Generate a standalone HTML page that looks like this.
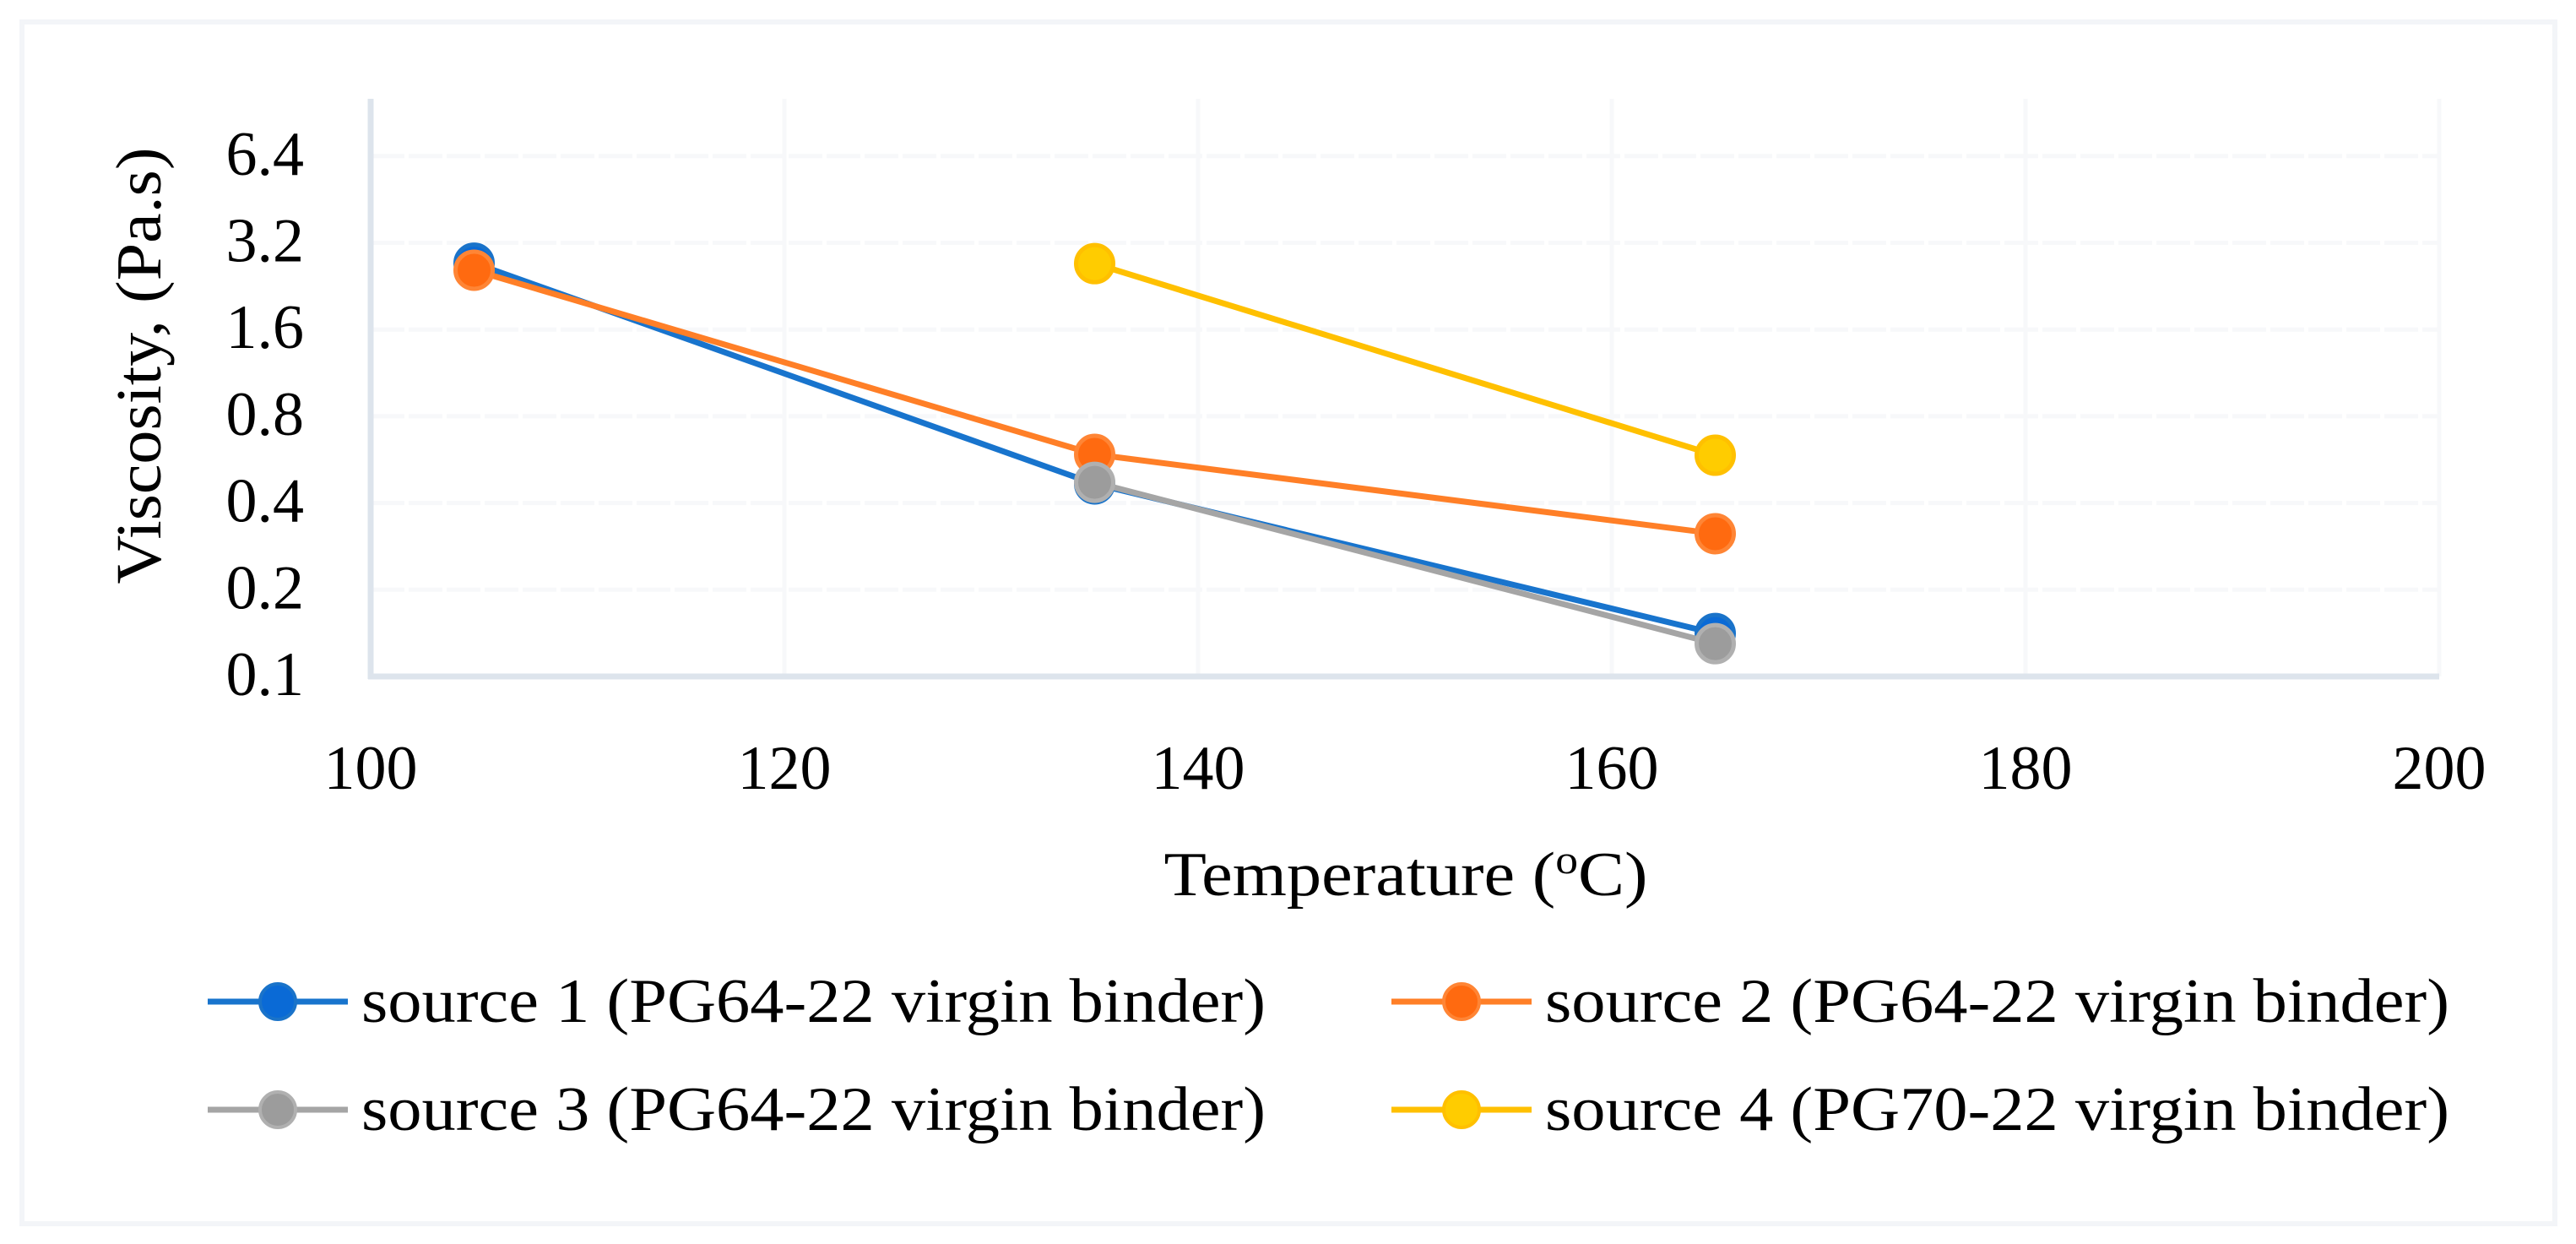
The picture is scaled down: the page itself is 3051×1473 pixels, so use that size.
<!DOCTYPE html>
<html><head><meta charset="utf-8"><style>
html,body{margin:0;padding:0;background:#fff;}
svg{display:block;font-family:"Liberation Serif",serif;}
</style></head><body>
<svg id="chart" width="3051" height="1473" viewBox="0 0 3051 1473" xmlns="http://www.w3.org/2000/svg">
<rect x="26" y="26" width="3000" height="1423" fill="#fff" stroke="#f3f5f8" stroke-width="6"/>
<g id="grid"></g>
<g id="axes"></g>
<g id="series"></g>
<g id="legend"></g>
<text x="0" y="0" transform="translate(190,433) rotate(-90)" text-anchor="middle" font-size="76" textLength="517" lengthAdjust="spacingAndGlyphs">Viscosity, (Pa.s)</text>
<text x="1665" y="1060" text-anchor="middle" font-size="74" textLength="573" lengthAdjust="spacingAndGlyphs">Temperature (<tspan font-size="48" dy="-26">o</tspan><tspan dy="26">C)</tspan></text>
</svg>
<script>
const temps = [105, 135, 165];
const src1 = [2.72, 0.466, 0.141];
const src2 = [2.57, 0.59, 0.313];
const src3 = [null, 0.472, 0.130];
const src4 = [null, 2.71, 0.586];
const xTicks = [100, 120, 140, 160, 180, 200];
const yTicks = [0.1, 0.2, 0.4, 0.8, 1.6, 3.2, 6.4];
const yTickLabels = ["0.1", "0.2", "0.4", "0.8", "1.6", "3.2", "6.4"];
const seriesNames = ["source 1 (PG64-22 virgin binder)", "source 2 (PG64-22 virgin binder)", "source 3 (PG64-22 virgin binder)", "source 4 (PG70-22 virgin binder)"];

const NS = "http://www.w3.org/2000/svg";
const X0 = 439, X1 = 2889, Y0 = 801, STEP = 102.7;
const xs = v => X0 + (v - 100) / 100 * (X1 - X0);
const ys = v => Y0 - STEP * Math.log2(v / 0.1);
function mk(tag, attrs, parent) {
  const e = document.createElementNS(NS, tag);
  for (const k in attrs) e.setAttribute(k, attrs[k]);
  parent.appendChild(e);
  return e;
}
const grid = document.getElementById('grid');
const axes = document.getElementById('axes');
const ser = document.getElementById('series');
const leg = document.getElementById('legend');

yTicks.forEach((t, i) => {
  if (i > 0) {
    const g = mk('line', {x1: X0, x2: X1, y1: ys(t), y2: ys(t), stroke: '#f7f8fa', 'stroke-width': 5, 'stroke-dasharray': '40 5'}, grid);
    
    
  }
  const tx = mk('text', {x: 360, y: ys(t) + 22, 'text-anchor': 'end', 'font-size': 74}, axes);
  tx.textContent = yTickLabels[i];
  
  
});
xTicks.forEach(t => {
  if (t > 100) {
    const g = mk('line', {x1: xs(t), x2: xs(t), y1: 117, y2: Y0, stroke: '#f7f8fa', 'stroke-width': 5}, grid);
    
    
  }
  const tx = mk('text', {x: xs(t), y: 934, 'text-anchor': 'middle', 'font-size': 74}, axes);
  tx.textContent = String(t);
  
  
});
const ya = mk('line', {x1: X0, x2: X0, y1: 117, y2: Y0 + 3, stroke: '#dde4ec', 'stroke-width': 7}, axes);


const xa = mk('line', {x1: X0 - 3, x2: X1, y1: Y0, y2: Y0, stroke: '#dde4ec', 'stroke-width': 7}, axes);



const allSeries = [src1, src2, src3, src4];
const lineCol = ['#1874cd', '#ff7f27', '#a5a5a5', '#ffc000'];
const fillCol = ['#0a6ad6', '#ff6a10', '#9c9c9c', '#ffcc00'];
const strokeCol = ['#1a73c9', '#ff8535', '#b0b0b0', '#ffc000'];

allSeries.forEach((vals, si) => {
  const pts = [];
  vals.forEach((v, i) => { if (v != null) pts.push([xs(temps[i]), ys(v)]); });
  const pl = mk('polyline', {points: pts.map(p => p.join(',')).join(' '), fill: 'none', stroke: lineCol[si], 'stroke-width': 7}, ser);
  
  
  pts.forEach(p => {
    const c = mk('circle', {cx: p[0], cy: p[1], r: 22, fill: fillCol[si], stroke: strokeCol[si], 'stroke-width': 5}, ser);
    
    
  });
});

const legPos = [[246, 1186, 428], [1648, 1186, 1830], [246, 1314, 428], [1648, 1314, 1830]];
seriesNames.forEach((n, i) => {
  const [lx, ly, tx0] = legPos[i];
  const g = mk('g', {}, leg);
  
  
  mk('line', {x1: lx, x2: lx + 166, y1: ly, y2: ly, stroke: lineCol[i], 'stroke-width': 7}, g);
  mk('circle', {cx: lx + 83, cy: ly, r: 21, fill: fillCol[i], stroke: strokeCol[i], 'stroke-width': 4}, g);
  const t = mk('text', {x: tx0, y: ly + 24, 'font-size': 74, textLength: 1071, lengthAdjust: 'spacingAndGlyphs'}, g);
  t.textContent = n;
});
</script>
</body></html>
